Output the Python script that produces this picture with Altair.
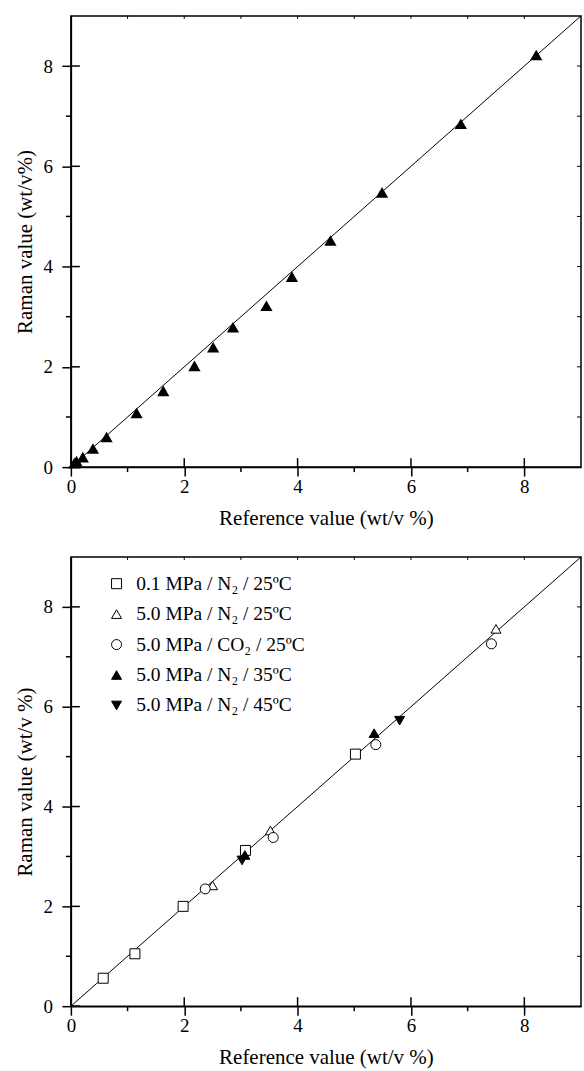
import altair as alt
import pandas as pd

# ---- data ----
top_ref = [0.06, 0.10, 0.21, 0.39, 0.63, 1.16, 1.63, 2.18, 2.51, 2.86, 3.45, 3.90, 4.58, 5.49, 6.88, 8.21]
top_raman = [0.08, 0.12, 0.20, 0.37, 0.60, 1.08, 1.52, 2.02, 2.39, 2.79, 3.22, 3.80, 4.52, 5.48, 6.85, 8.22]

series_names = [
    "0.1 MPa / N\u2082 / 25ºC",
    "5.0 MPa / N\u2082 / 25ºC",
    "5.0 MPa / CO\u2082 / 25ºC",
    "5.0 MPa / N\u2082 / 35ºC",
    "5.0 MPa / N\u2082 / 45ºC",
]
s1_ref = [0.57, 1.13, 1.98, 3.08, 5.02]
s1_raman = [0.56, 1.05, 2.00, 3.12, 5.05]
s2_ref = [2.50, 3.52, 7.50]
s2_raman = [2.42, 3.52, 7.56]
s3_ref = [2.37, 3.57, 5.38, 7.42]
s3_raman = [2.35, 3.38, 5.24, 7.26]
s4_ref = [3.07, 5.35]
s4_raman = [3.03, 5.47]
s5_ref = [3.02, 5.80]
s5_raman = [2.92, 5.72]

shapes = ["square", "triangle-up", "circle", "triangle-up", "triangle-down"]
fills = ["white", "white", "white", "black", "black"]
strokes = ["black", "black", "black", "black", "black"]

major_ticks = [0, 2, 4, 6, 8]
minor_ticks = [1, 3, 5, 7]
all_ticks = [1, 2, 3, 4, 5, 6, 7, 8]
diag = [0, 9]

W = 511
H1 = 452
H2 = 450
FONT = "Times New Roman, Liberation Serif, serif"

xs = alt.Scale(domain=[0, 9], nice=False, zero=False)
ys = alt.Scale(domain=[0, 9], nice=False, zero=False)


def frame_layers(H, xtitle, ytitle):
    line_df = pd.DataFrame({"x": diag, "y": diag})
    maj = pd.DataFrame({"v": major_ticks})
    mnr = pd.DataFrame({"v": minor_ticks})
    alls = pd.DataFrame({"v": all_ticks})
    line = alt.Chart(line_df).mark_line(color="black", strokeWidth=1).encode(
        x=alt.X("x:Q", scale=xs, title=xtitle,
                axis=alt.Axis(values=major_ticks, format="d", labelFlush=False)),
        y=alt.Y("y:Q", scale=ys, title=ytitle,
                axis=alt.Axis(values=major_ticks, format="d", labelFlush=False)),
    )
    rw = 1.5
    y_in = alt.Chart(maj).mark_rule(color="black", strokeWidth=rw).encode(
        y=alt.Y("v:Q", scale=ys), x=alt.value(0), x2=alt.value(9))
    x_in = alt.Chart(maj).mark_rule(color="black", strokeWidth=rw).encode(
        x=alt.X("v:Q", scale=xs), y=alt.value(H), y2=alt.value(H - 9))
    y_min = alt.Chart(mnr).mark_rule(color="black", strokeWidth=rw).encode(
        y=alt.Y("v:Q", scale=ys), x=alt.value(-5), x2=alt.value(0))
    x_min = alt.Chart(mnr).mark_rule(color="black", strokeWidth=rw).encode(
        x=alt.X("v:Q", scale=xs), y=alt.value(H), y2=alt.value(H + 5))
    top_t = alt.Chart(alls).mark_rule(color="black", strokeWidth=1).encode(
        x=alt.X("v:Q", scale=xs), y=alt.value(0), y2=alt.value(3))
    right_t = alt.Chart(alls).mark_rule(color="black", strokeWidth=1).encode(
        y=alt.Y("v:Q", scale=ys), x=alt.value(W), x2=alt.value(W - 4))
    return [line, y_in, x_in, y_min, x_min, top_t, right_t]


# ---- top panel ----
top_df = pd.DataFrame({"ref": top_ref, "raman": top_raman})
top_pts = alt.Chart(top_df).mark_point(
    shape="triangle-up", filled=True, color="black", size=150, opacity=1
).encode(
    x=alt.X("ref:Q", scale=xs),
    y=alt.Y("raman:Q", scale=ys),
)
top = alt.layer(
    *frame_layers(H1, "Reference value (wt/v %)", "Raman value (wt/v%)"), top_pts
).properties(width=W, height=H1)

# ---- bottom panel ----
rows = []
for name, rx, ry in zip(
    series_names,
    [s1_ref, s2_ref, s3_ref, s4_ref, s5_ref],
    [s1_raman, s2_raman, s3_raman, s4_raman, s5_raman],
):
    for a, b in zip(rx, ry):
        rows.append({"series": name, "ref": a, "raman": b})
bot_df = pd.DataFrame(rows)

leg = alt.Legend(
    title=None,
    orient="none",
    legendX=36,
    legendY=559,
    labelFont=FONT,
    labelFontSize=19.5,
    labelColor="black",
    labelOffset=10,
    labelLimit=400,
    rowPadding=9.5,
    symbolSize=100,
    symbolStrokeColor="black",
    symbolStrokeWidth=1,
    padding=0,
)
bot_pts = alt.Chart(bot_df).mark_point(
    filled=True, strokeWidth=1, size=100, opacity=1
).encode(
    x=alt.X("ref:Q", scale=xs),
    y=alt.Y("raman:Q", scale=ys),
    shape=alt.Shape("series:N", scale=alt.Scale(domain=series_names, range=shapes), legend=leg),
    fill=alt.Fill("series:N", scale=alt.Scale(domain=series_names, range=fills), legend=leg),
    stroke=alt.Stroke("series:N", scale=alt.Scale(domain=series_names, range=strokes), legend=leg),
)
bottom = alt.layer(
    *frame_layers(H2, "Reference value (wt/v %)", "Raman value (wt/v %)"), bot_pts
).properties(width=W, height=H2)

chart = (
    alt.vconcat(top, bottom, spacing=90, bounds="flush")
    .properties(padding={"left": 13, "top": 12, "right": 0, "bottom": 0}, background="white")
    .configure_view(stroke="black", strokeWidth=1.5)
    .configure_axis(
        grid=False,
        domainColor="black",
        domainWidth=1.5,
        tickColor="black",
        tickWidth=1.5,
        tickSize=9,
        labelFont=FONT,
        labelFontSize=19,
        labelColor="black",
        titleFont=FONT,
        titleFontSize=21,
        titleFontWeight="normal",
        titleColor="black",
    )
    .configure_axisX(labelPadding=1, titlePadding=11.5, labelAngle=0)
    .configure_axisY(labelPadding=9.5, titlePadding=7.5)
)

chart.save("out.html", embed_options={"renderer": "svg", "actions": False})
